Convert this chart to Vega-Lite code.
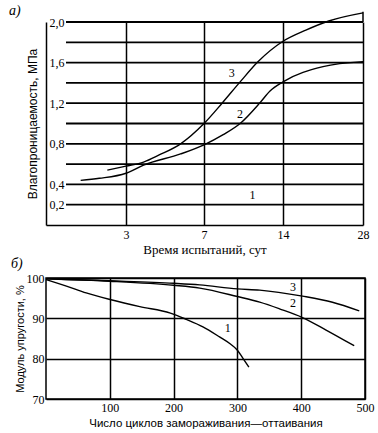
{
  "$schema": "https://vega.github.io/schema/vega-lite/v6.json",
  "padding": {"left": 9, "top": 4, "right": 5, "bottom": 2},
  "spacing": 0,
  "config": {
    "axis": {"labelColor": "black", "titleColor": "black", "gridColor": "black", "gridOpacity": 1, "domainColor": "black", "labelFont": "Liberation Serif", "labelFontSize": 12, "titleFontWeight": "normal", "ticks": false, "tickSize": 0, "labelFlush": false, "labelOverlap": false, "tickCount": 12},
    "title": {"color": "black"},
    "text": {"font": "Liberation Serif", "fontSize": 12, "color": "black"}
  },
  "vconcat": [
    {
      "width": 317,
      "height": 203,
      "view": {"stroke": null},
      "title": {"text": "а)", "anchor": "start", "frame": "group", "font": "Liberation Serif", "fontStyle": "italic", "fontWeight": "normal", "fontSize": 14, "dx": -37, "offset": -8},
      "layer": [
        {
          "data": {"values": [{"v": 0.2}, {"v": 0.4}, {"v": 0.6}, {"v": 0.8}, {"v": 1.0}, {"v": 1.2}, {"v": 1.4}, {"v": 1.6}, {"v": 1.8}, {"v": 2.0}]},
          "mark": {"type": "rule", "color": "black", "strokeWidth": 1.8},
          "encoding": {
            "x": {"datum": 0.75, "type": "quantitative", "scale": {"domain": [0, 3, 7, 14, 28], "range": [0, 80, 158, 237, 317]},
              "axis": {"values": [3, 7, 14, 28], "tickCount": 12, "grid": true, "gridWidth": 1.5, "domain": true, "domainWidth": 1.5, "labelPadding": 4, "title": "Время испытаний, сут", "titleFont": "Liberation Serif", "titleFontSize": 13, "titlePadding": 3}},
            "x2": {"datum": 28},
            "y": {"field": "v", "type": "quantitative", "scale": {"domain": [0, 2.0]},
              "axis": {"values": [0.2, 0.4, 0.8, 1.2, 1.6, 2.0], "tickCount": 12, "labelExpr": "replace(format(datum.value, '.1f'), '.', ',')", "grid": false, "labelAlign": "left", "labelPadding": -3, "labelBaseline": "middle", "domain": true, "domainWidth": 1.5, "title": "Влагопроницаемость, МПа", "titleFont": "Liberation Sans", "titleFontSize": 12, "titlePadding": 7}}
          }
        },
        {
          "data": {"values": [{}]},
          "mark": {"type": "rule", "color": "black", "strokeWidth": 1.5, "clip": false},
          "encoding": {
            "x": {"datum": 28, "type": "quantitative"},
            "y": {"datum": 2.0, "type": "quantitative"},
            "y2": {"datum": 2.1}
          }
        },
        {
          "data": {"values": [
            {"curve": "2", "day": 1.3, "value": 0.44},
            {"curve": "2", "day": 2.0, "value": 0.46},
            {"curve": "2", "day": 3.0, "value": 0.51},
            {"curve": "2", "day": 3.9, "value": 0.59},
            {"curve": "2", "day": 5.8, "value": 0.70},
            {"curve": "2", "day": 7.0, "value": 0.79},
            {"curve": "2", "day": 8.7, "value": 0.89},
            {"curve": "2", "day": 10.2, "value": 1.0},
            {"curve": "2", "day": 12.0, "value": 1.21},
            {"curve": "2", "day": 12.85, "value": 1.32},
            {"curve": "2", "day": 14.0, "value": 1.41},
            {"curve": "2", "day": 21.0, "value": 1.56},
            {"curve": "2", "day": 28.0, "value": 1.61},
            {"curve": "3", "day": 2.3, "value": 0.54},
            {"curve": "3", "day": 3.0, "value": 0.58},
            {"curve": "3", "day": 3.9, "value": 0.62},
            {"curve": "3", "day": 4.7, "value": 0.69},
            {"curve": "3", "day": 5.8, "value": 0.8},
            {"curve": "3", "day": 7.0, "value": 1.0},
            {"curve": "3", "day": 8.6, "value": 1.2},
            {"curve": "3", "day": 10.2, "value": 1.41},
            {"curve": "3", "day": 11.8, "value": 1.61},
            {"curve": "3", "day": 14.0, "value": 1.81},
            {"curve": "3", "day": 18.0, "value": 1.92},
            {"curve": "3", "day": 22.0, "value": 2.01},
            {"curve": "3", "day": 28.0, "value": 2.09}
          ]},
          "mark": {"type": "line", "color": "black", "strokeWidth": 1.4, "interpolate": "monotone", "clip": false},
          "encoding": {
            "x": {"field": "day", "type": "quantitative"},
            "y": {"field": "value", "type": "quantitative"},
            "detail": {"field": "curve"}
          }
        },
        {
          "data": {"values": [
            {"label": "3", "day": 9.45, "value": 1.5},
            {"label": "2", "day": 10.2, "value": 1.09},
            {"label": "1", "day": 11.3, "value": 0.3}
          ]},
          "mark": {"type": "text"},
          "encoding": {
            "x": {"field": "day", "type": "quantitative"},
            "y": {"field": "value", "type": "quantitative"},
            "text": {"field": "label"}
          }
        }
      ]
    },
    {
      "width": 319,
      "height": 121,
      "view": {"stroke": "black", "strokeWidth": 1.5},
      "title": {"text": "б)", "anchor": "start", "frame": "group", "font": "Liberation Serif", "fontStyle": "italic", "fontWeight": "normal", "fontSize": 14, "dx": -35, "offset": 1},
      "layer": [
        {
          "data": {"values": [
            {"curve": "1", "cycles": 0, "modulus": 99.6},
            {"curve": "1", "cycles": 32, "modulus": 98.0},
            {"curve": "1", "cycles": 63, "modulus": 96.3},
            {"curve": "1", "cycles": 102, "modulus": 94.6},
            {"curve": "1", "cycles": 147, "modulus": 92.9},
            {"curve": "1", "cycles": 195, "modulus": 91.3},
            {"curve": "1", "cycles": 220, "modulus": 89.75},
            {"curve": "1", "cycles": 246, "modulus": 87.9},
            {"curve": "1", "cycles": 272, "modulus": 85.4},
            {"curve": "1", "cycles": 288, "modulus": 83.75},
            {"curve": "1", "cycles": 300, "modulus": 82.1},
            {"curve": "1", "cycles": 309, "modulus": 80.0},
            {"curve": "1", "cycles": 318, "modulus": 77.9},
            {"curve": "2", "cycles": 0, "modulus": 99.8},
            {"curve": "2", "cycles": 100, "modulus": 99.2},
            {"curve": "2", "cycles": 200, "modulus": 98.2},
            {"curve": "2", "cycles": 241, "modulus": 97.5},
            {"curve": "2", "cycles": 300, "modulus": 95.4},
            {"curve": "2", "cycles": 335, "modulus": 94.0},
            {"curve": "2", "cycles": 366, "modulus": 92.35},
            {"curve": "2", "cycles": 402, "modulus": 90.2},
            {"curve": "2", "cycles": 439, "modulus": 87.1},
            {"curve": "2", "cycles": 483, "modulus": 83.2},
            {"curve": "3", "cycles": 0, "modulus": 99.8},
            {"curve": "3", "cycles": 100, "modulus": 99.3},
            {"curve": "3", "cycles": 200, "modulus": 98.7},
            {"curve": "3", "cycles": 241, "modulus": 98.3},
            {"curve": "3", "cycles": 300, "modulus": 97.3},
            {"curve": "3", "cycles": 335, "modulus": 97.0},
            {"curve": "3", "cycles": 402, "modulus": 95.5},
            {"curve": "3", "cycles": 449, "modulus": 94.0},
            {"curve": "3", "cycles": 491, "modulus": 91.85}
          ]},
          "mark": {"type": "line", "color": "black", "strokeWidth": 1.4, "interpolate": "monotone"},
          "encoding": {
            "x": {"field": "cycles", "type": "quantitative", "scale": {"domain": [0, 500]},
              "axis": {"values": [100, 200, 300, 400, 500], "tickCount": 12, "grid": true, "gridWidth": 1.5, "domain": false, "labelPadding": 3, "title": "Число циклов замораживания—оттаивания", "titleFont": "Liberation Sans", "titleFontSize": 11.5, "titlePadding": 4}},
            "y": {"field": "modulus", "type": "quantitative", "scale": {"domain": [70, 100]},
              "axis": {"values": [70, 80, 90, 100], "tickCount": 12, "grid": true, "gridWidth": 1.5, "domain": false, "labelPadding": 2, "title": "Модуль упругости, %", "titleFont": "Liberation Sans", "titleFontSize": 11, "titlePadding": 1}},
            "detail": {"field": "curve"}
          }
        },
        {
          "data": {"values": [
            {"label": "3", "cycles": 387, "modulus": 97.7},
            {"label": "2", "cycles": 387, "modulus": 93.8},
            {"label": "1", "cycles": 285, "modulus": 87.7}
          ]},
          "mark": {"type": "text"},
          "encoding": {
            "x": {"field": "cycles", "type": "quantitative"},
            "y": {"field": "modulus", "type": "quantitative"},
            "text": {"field": "label"}
          }
        }
      ]
    }
  ]
}
